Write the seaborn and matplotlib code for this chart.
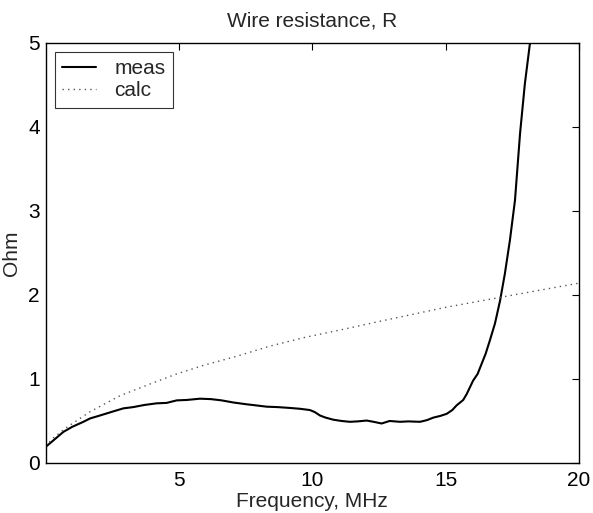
import matplotlib
matplotlib.use("Agg")
import matplotlib.pyplot as plt
import seaborn as sns
import pandas as pd

# Measured wire resistance (Ohm) vs frequency (MHz)
meas_x = [0, 0.3, 0.67, 1.0, 1.42, 1.67, 2.04, 2.5, 2.92, 3.29, 3.7, 4.17, 4.54,
          4.92, 5.3, 5.79, 6.2, 6.6, 7.04, 7.5, 7.9, 8.29, 8.7, 9.16, 9.54, 9.91,
          10.1, 10.29, 10.5, 10.79, 11.1, 11.41, 11.7, 12.04, 12.3, 12.6, 12.9,
          13.29, 13.6, 14.04, 14.3, 14.54, 14.8, 15.04, 15.25, 15.41, 15.66,
          15.79, 16.03, 16.2, 16.35, 16.5, 16.66, 16.85, 17.04, 17.22, 17.41,
          17.6, 17.79, 17.97, 18.16, 18.25]
meas_y = [0.19, 0.27, 0.37, 0.43, 0.49, 0.53, 0.565, 0.61, 0.65, 0.665, 0.69,
          0.71, 0.715, 0.745, 0.75, 0.765, 0.76, 0.745, 0.72, 0.70, 0.685, 0.67,
          0.665, 0.655, 0.645, 0.63, 0.605, 0.565, 0.54, 0.515, 0.50, 0.49,
          0.495, 0.505, 0.49, 0.47, 0.50, 0.49, 0.495, 0.49, 0.51, 0.54, 0.56,
          0.585, 0.63, 0.685, 0.75, 0.82, 0.98, 1.06, 1.18, 1.30, 1.46, 1.66,
          1.93, 2.25, 2.65, 3.125, 3.92, 4.51, 4.99, 5.3]

# Calculated resistance
calc_x = [0, 0.3, 0.73, 1.67, 2.79, 3.92, 4.92, 5.91, 7.17, 8.41, 9.66, 11.16,
          12.6, 13.79, 14.97, 17.04, 20]
calc_y = [0.2, 0.3, 0.41, 0.61, 0.80, 0.94, 1.06, 1.16, 1.27, 1.39, 1.49, 1.59,
          1.69, 1.77, 1.85, 1.97, 2.14]

x_ticks = [5, 10, 15, 20]
y_ticks = [0, 1, 2, 3, 4, 5]

sns.set_style("white")
plt.rcParams['font.family'] = ['Liberation Sans', 'DejaVu Sans']

fig = plt.figure(figsize=(5.93, 5.13), dpi=100)
ax = fig.add_axes([45.5 / 593, 1 - 463 / 513, (579 - 45.5) / 593, (463 - 42.7) / 513])

meas_df = pd.DataFrame({"x": meas_x, "y": meas_y})
calc_df = pd.DataFrame({"x": calc_x, "y": calc_y})

sns.lineplot(data=meas_df, x="x", y="y", ax=ax, color="black", linewidth=1.5,
             label="meas", sort=False)
sns.lineplot(data=calc_df, x="x", y="y", ax=ax, color="#555555", linewidth=1.0,
             linestyle=(0, (1, 3)), label="calc", sort=False)

ax.set_xlim(0, 20)
ax.set_ylim(0, 5)
ax.set_xticks(x_ticks)
ax.set_yticks(y_ticks)
ax.tick_params(direction="in", length=5, width=0.8, top=True, right=True,
               labelsize=15, colors="black")
ax.tick_params(axis="x", pad=6)
ax.tick_params(axis="y", pad=4)
for s in ax.spines.values():
    s.set_visible(True)
    s.set_color("black")
    s.set_linewidth(1.0)

ax.set_title("Wire resistance, R", fontsize=15, pad=12)
ax.set_xlabel("Frequency, MHz", fontsize=15, labelpad=1)
ax.set_ylabel("Ohm", fontsize=15, labelpad=5)

leg = ax.legend(loc="upper left", fontsize=15, frameon=True, fancybox=False,
                borderpad=0.35, handlelength=1.6, handletextpad=0.9,
                labelspacing=0.15, borderaxespad=0.45)
leg.get_frame().set_edgecolor("black")
leg.get_frame().set_linewidth(0.8)

fig.savefig("out.png", dpi=100)
